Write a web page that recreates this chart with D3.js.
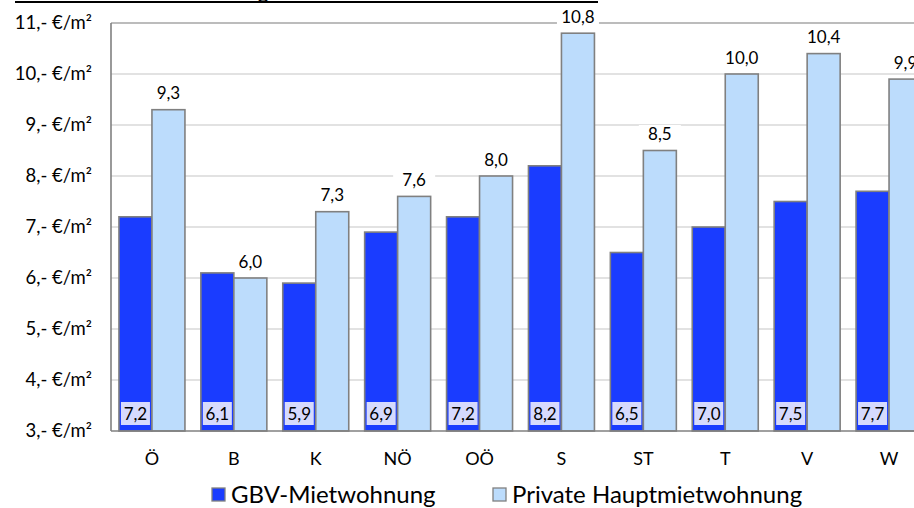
<!DOCTYPE html>
<html><head><meta charset="utf-8">
<script src="https://cdn.jsdelivr.net/npm/d3@7"></script>
<style>body{margin:0;background:#fff}svg{display:block;font-family:Lato, "Open Sans", sans-serif}</style>
</head><body><svg id="c" width="914" height="508"></svg>
<script>
const categories = ["Ö","B","K","NÖ","OÖ","S","ST","T","V","W"];
const gbv = [7.2,6.1,5.9,6.9,7.2,8.2,6.5,7.0,7.5,7.7];
const privat = [9.3,6.0,7.3,7.6,8.0,10.8,8.5,10.0,10.4,9.9];
const yTicks = [3,4,5,6,7,8,9,10,11];
const seriesNames = ["GBV-Mietwohnung","Private Hauptmietwohnung"];
const colors = ["#1a3cff","#bcdcfc"];
const titleText = "Durchschnittliche Miete nach Bundesland und Wohnung";

(function(){
const svg = d3.select("#c");
const fmt = v => v.toFixed(1).replace(".", ",");
const pLeft = 111, pTop = 23, pBottom = 431, pRight = 111 + 81.9*10;
const y = d3.scaleLinear().domain([3,11]).range([pBottom, pTop]);
const x = d3.scaleBand().domain(categories).range([pLeft, pRight]).paddingInner(0).paddingOuter(0);
const x1 = d3.scaleBand().domain([0,1]).range([0, x.bandwidth()]).paddingInner(0).paddingOuter(0.241);

// title (cropped off the top)
svg.append("text").attr("x", 269).attr("y", -2).attr("text-anchor","end")
  .attr("font-size", 22).text(titleText);
svg.append("line").attr("x1",15).attr("x2",598).attr("y1",2).attr("y2",2)
  .attr("stroke","#000").attr("stroke-width",2.2);

// gridlines
svg.append("g").selectAll("line").data(yTicks.filter(t=>t>3 && t<11)).join("line")
  .attr("x1", pLeft).attr("x2", 914).attr("y1", d=>y(d)).attr("y2", d=>y(d))
  .attr("stroke","#d9d9d9").attr("stroke-width",1.5);
svg.append("line").attr("x1",pLeft).attr("x2",914).attr("y1",y(11)).attr("y2",y(11))
  .attr("stroke","#a6a6a6").attr("stroke-width",1.5);

// y axis labels
const yAxis = d3.axisLeft(y).tickValues(yTicks).tickSize(0).tickPadding(19)
  .tickFormat(d => d + ",- €/m²");
const gy = svg.append("g").attr("transform", `translate(${pLeft},0)`).call(yAxis);
gy.select(".domain").remove();
gy.selectAll("text").attr("font-size",18.5).attr("fill","#000").attr("font-family","Lato, sans-serif");

// bars
const data = categories.map((c,i)=>({c, vals:[gbv[i], privat[i]]}));
const groups = svg.append("g").selectAll("g").data(data).join("g")
  .attr("transform", d=>`translate(${x(d.c)},0)`);
groups.selectAll("rect").data(d=>d.vals.map((v,k)=>({v,k}))).join("rect")
  .attr("x", d=>x1(d.k)).attr("width", x1.bandwidth())
  .attr("y", d=>y(d.v)).attr("height", d=>pBottom - y(d.v))
  .attr("fill", d=>colors[d.k]).attr("stroke","#808080").attr("stroke-width",1.6);

// left axis & baseline
svg.append("line").attr("x1",pLeft).attr("x2",pLeft).attr("y1",pTop).attr("y2",pBottom)
  .attr("stroke","#808080").attr("stroke-width",1.6);
svg.append("line").attr("x1",pLeft).attr("x2",914).attr("y1",pBottom).attr("y2",pBottom)
  .attr("stroke","#808080").attr("stroke-width",1.6);

// value labels
groups.each(function(d){
  const g = d3.select(this);
  const cx = x1(0) + x1.bandwidth()/2;
  g.append("rect").attr("x", cx-14.5).attr("y", pBottom-29).attr("width",29).attr("height",23)
    .attr("fill","#d6dafd");
  g.append("text").attr("x", cx).attr("y", pBottom-11.5).attr("text-anchor","middle")
    .attr("font-size",17).text(fmt(d.vals[0]));
  const cx2 = x1(1) + x1.bandwidth()/2;
  const ty = y(d.vals[1]) - 10.5;
  g.append("rect").attr("x", cx2-21).attr("y", ty-15).attr("width",42).attr("height",19).attr("fill","#fff");
  g.append("text").attr("x", cx2).attr("y", ty).attr("text-anchor","middle")
    .attr("font-size",17).text(fmt(d.vals[1]));
});

// x labels
const xAxis = d3.axisBottom(x).tickSize(0).tickPadding(21);
const gx = svg.append("g").attr("transform", `translate(0,${pBottom})`).call(xAxis);
gx.select(".domain").remove();
gx.selectAll("text").attr("font-size",18).attr("fill","#000").attr("font-family","Lato, sans-serif");

// legend
const legX = [212, 493];
const leg = svg.append("g").selectAll("g").data(seriesNames).join("g")
  .attr("transform",(d,i)=>`translate(${legX[i]},488)`);
leg.append("rect").attr("x",0).attr("y",0).attr("width",13).attr("height",13)
  .attr("fill",(d,i)=>colors[i]).attr("stroke","#808080").attr("stroke-width",1.3);
leg.append("text").attr("x",19).attr("y",15).attr("font-size",24).text(d=>d);
})();
</script></body></html>
